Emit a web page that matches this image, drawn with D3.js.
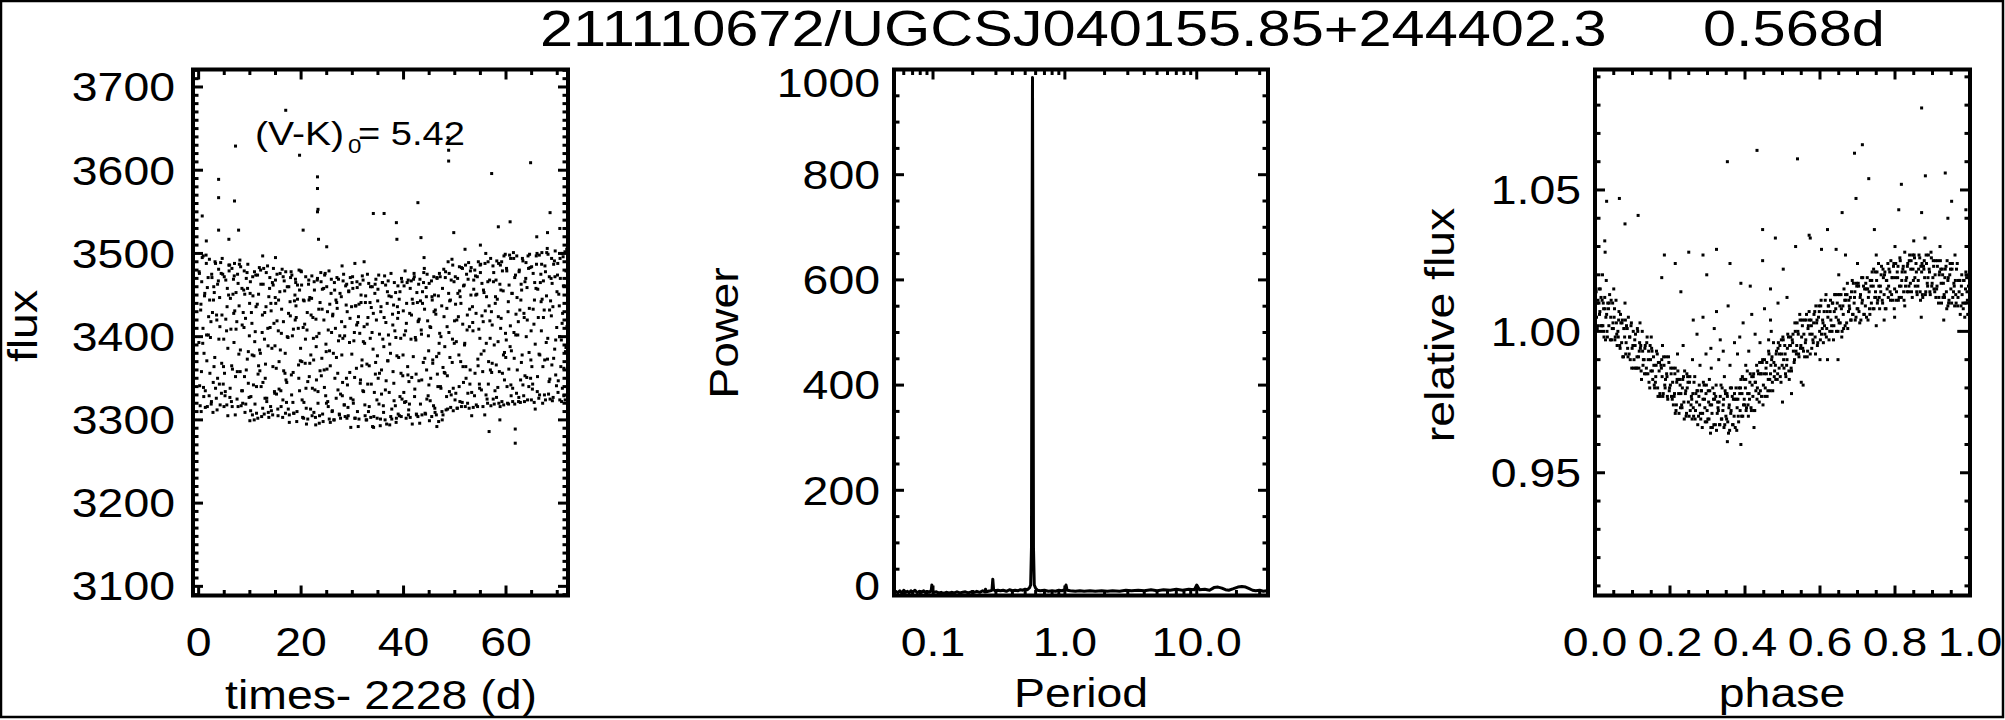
<!DOCTYPE html>
<html><head><meta charset="utf-8">
<script src="https://cdn.jsdelivr.net/npm/d3@7"></script>
<style>
body{margin:0;background:#fff}
svg{display:block}
text{font-family:"Liberation Sans",Arial,Helvetica,sans-serif;fill:#000}
</style>
</head><body>
<svg id="chart" width="2005" height="720"></svg>
<script>
// ---------------- DATA ----------------
const titleLeft = "211110672/UGCSJ040155.85+244402.3";
const titleRight = "0.568d";
const colourLabel = "(V-K)", colourSub = "0", colourValue = "= 5.42";

// Light curve, first set (time - 2228 d, flux)
const lcTimes = [
0.1,0.2,0.4,0.5,0.6,0.8,0.9, 1.0,1.2,1.3,1.5,1.6,1.7,1.9,
2.1,2.2,2.4,2.5,2.6,2.8,2.9, 3.0,3.2,3.3,3.5,3.6,3.7,3.9,
4.1,4.2,4.4,4.5,4.6,4.8,4.9, 5.0,5.2,5.3,5.5,5.6,5.7,5.9,
6.1,6.2,6.4,6.5,6.6,6.8,6.9, 7.0,7.2,7.3,7.5,7.6,7.7,7.9,
8.1,8.2,8.4,8.5,8.6,8.8,8.9, 9.0,9.2,9.3,9.5,9.6,9.7,9.9,
10.1,10.2,10.4,10.5,10.6,10.8,10.9, 11.0,11.2,11.3,11.5,11.6,11.7,11.9,
12.1,12.2,12.4,12.5,12.6,12.8,12.9, 13.0,13.2,13.3,13.5,13.6,13.7,13.9,
14.1,14.2,14.4,14.5,14.6,14.8,14.9, 15.0,15.2,15.3,15.5,15.6,15.7,15.9,
16.1,16.2,16.4,16.5,16.6,16.8,16.9, 17.0,17.2,17.3,17.5,17.6,17.7,17.9,
18.1,18.2,18.4,18.5,18.6,18.8,18.9, 19.0,19.2,19.3,19.5,19.6,19.7,19.9,
20.1,20.2,20.4,20.5,20.6,20.8,20.9, 21.0,21.2,21.3,21.5,21.6,21.7,21.9,
22.1,22.2,22.4,22.5,22.6,22.8,22.9, 23.0,23.2,23.3,23.5,23.6,23.7,23.9,
24.1,24.2,24.4,24.5,24.6,24.8,24.9, 25.0,25.2,25.3,25.5,25.6,25.7,25.9,
26.1,26.2,26.4,26.5,26.6,26.8,26.9, 27.0,27.2,27.3,27.5,27.6,27.7,27.9,
28.1,28.2,28.4,28.5,28.6,28.8,28.9, 29.0,29.2,29.3,29.5,29.6,29.7,29.9,
30.1,30.2,30.4,30.5,30.6,30.8,30.9, 31.0,31.2,31.3,31.5,31.6,31.7,31.9,
32.1,32.2,32.4,32.5,32.6,32.8,32.9, 33.0,33.2,33.3,33.5,33.6,33.7,33.9,
34.1,34.2,34.4,34.5,34.6,34.8,34.9, 35.0,35.2,35.3,35.5,35.6,35.7,35.9,
36.1,36.2,36.4,36.5,36.6,36.8,36.9, 37.0,37.2,37.3,37.5,37.6,37.7,37.9,
38.1,38.2,38.4,38.5,38.6,38.8,38.9, 39.0,39.2,39.3,39.5,39.6,39.7,39.9,
40.1,40.2,40.4,40.5,40.6,40.8,40.9, 41.0,41.2,41.3,41.5,41.6,41.7,41.9,
42.1,42.2,42.4,42.5,42.6,42.8,42.9, 43.0,43.2,43.3,43.5,43.6,43.7,43.9,
44.1,44.2,44.4,44.5,44.6,44.8,44.9, 45.0,45.2,45.3,45.5,45.6,45.7,45.9,
46.1,46.2,46.4,46.5,46.6,46.8,46.9, 47.0,47.2,47.3,47.5,47.6,47.7,47.9,
48.1,48.2,48.4,48.5,48.6,48.8,48.9, 49.0,49.2,49.3,49.5,49.6,49.7,49.9,
50.1,50.2,50.4,50.5,50.6,50.8,50.9, 51.0,51.2,51.3,51.5,51.6,51.7,51.9,
52.1,52.2,52.4,52.5,52.6,52.8,52.9, 53.0,53.2,53.3,53.5,53.6,53.7,53.9,
54.1,54.2,54.4,54.5,54.6,54.8,54.9, 55.0,55.2,55.3,55.5,55.6,55.7,55.9,
56.1,56.2,56.4,56.5,56.6,56.8,56.9, 57.0,57.2,57.3,57.5,57.6,57.7,57.9,
58.1,58.2,58.4,58.5,58.6,58.8,58.9, 59.0,59.2,59.3,59.5,59.6,59.7,59.9,
60.1,60.2,60.4,60.5,60.6,60.8,60.9, 61.0,61.2,61.3,61.5,61.6,61.7,61.9,
62.1,62.2,62.4,62.5,62.6,62.8,62.9, 63.0,63.2,63.3,63.5,63.6,63.7,63.9,
64.1,64.2,64.4,64.5,64.6,64.8,64.9, 65.0,65.2,65.3,65.5,65.6,65.7,65.9,
66.1,66.2,66.4,66.5,66.6,66.8,66.9, 67.0,67.2,67.3,67.5,67.6,67.7,67.9,
68.1,68.2,68.4,68.5,68.6,68.8,68.9, 69.0,69.2,69.3,69.5,69.6,69.7,69.9,
70.1,70.2,70.4,70.5,70.6,70.8,70.9, 71.0,71.2,71.3,71.5,71.6,71.7,71.9
];
const lcFlux = [
3478,3341,3432,3310,3466,3392,3497, 3328,3452,3315,3488,3371,3459,3402,
3493,3356,3418,3322,3471,3309,3444, 3364,3490,3338,3426,3312,3463,3481,
3447,3318,3476,3368,3494,3343,3397, 3472,3334,3421,3318,3458,3386,3486,
3327,3446,3322,3482,3361,3469,3393, 3488,3352,3409,3325,3475,3316,3437,
3358,3484,3335,3414,3320,3456,3479, 3451,3319,3470,3373,3487,3344,3401,
3466,3328,3416,3306,3449,3377,3478, 3319,3436,3308,3474,3355,3451,3384,
3480,3340,3405,3314,3463,3307,3429, 3350,3477,3326,3410,3309,3448,3471,
3440,3311,3465,3364,3482,3334,3389, 3468,3331,3419,3305,3444,3370,3476,
3316,3433,3303,3472,3359,3455,3380, 3478,3345,3400,3313,3460,3306,3425,
3354,3474,3321,3409,3308,3450,3469, 3437,3310,3462,3366,3480,3335,3386,
3462,3324,3411,3302,3443,3368,3472, 3314,3429,3301,3468,3352,3447,3378,
3473,3338,3398,3309,3456,3303,3421, 3348,3470,3320,3404,3305,3441,3466,
3433,3307,3458,3360,3474,3329,3382, 3460,3322,3408,3301,3439,3365,3469,
3311,3427,3300,3465,3350,3444,3375, 3471,3336,3395,3306,3452,3302,3418,
3345,3467,3318,3401,3304,3438,3463, 3430,3305,3455,3357,3471,3326,3379,
3458,3320,3405,3302,3437,3362,3466, 3310,3424,3301,3463,3348,3441,3372,
3468,3334,3392,3305,3449,3300,3415, 3343,3464,3316,3398,3303,3435,3460,
3428,3304,3452,3355,3469,3324,3377, 3457,3319,3403,3301,3436,3360,3465,
3309,3423,3300,3462,3347,3440,3371, 3467,3333,3391,3304,3448,3301,3414,
3344,3465,3317,3399,3302,3436,3461, 3429,3305,3454,3356,3470,3325,3378,
3461,3321,3407,3302,3440,3364,3468, 3312,3428,3303,3467,3351,3445,3376,
3472,3337,3396,3307,3453,3304,3419, 3347,3469,3319,3403,3306,3440,3465,
3433,3308,3459,3360,3475,3329,3383, 3464,3323,3411,3304,3444,3368,3472,
3314,3432,3306,3471,3355,3449,3380, 3476,3340,3400,3310,3458,3306,3424,
3356,3478,3328,3412,3313,3452,3476, 3443,3315,3468,3369,3486,3338,3392,
3472,3332,3420,3314,3452,3378,3484, 3322,3440,3316,3482,3364,3461,3390,
3486,3350,3408,3320,3469,3314,3433, 3360,3483,3333,3417,3315,3457,3480,
3450,3318,3472,3373,3490,3343,3398, 3477,3336,3425,3316,3456,3383,3488,
3330,3448,3320,3490,3370,3468,3398, 3494,3357,3414,3325,3477,3319,3440,
3366,3491,3339,3424,3320,3463,3486, 3456,3322,3479,3378,3497,3348,3404,
3482,3340,3430,3319,3462,3388,3494, 3329,3452,3322,3494,3374,3471,3402,
3497,3360,3418,3327,3480,3321,3444, 3369,3494,3342,3428,3322,3466,3489,
3459,3324,3482,3381,3499,3350,3407, 3484,3343,3433,3321,3465,3391,3497,
3334,3457,3326,3498,3378,3475,3407, 3501,3364,3423,3330,3485,3324,3449,
3373,3499,3346,3432,3325,3470,3494, 3464,3327,3487,3385,3503,3354,3411,
3488,3347,3437,3324,3470,3396,3500, 3338,3461,3329,3502,3382,3479,3412
];
// Light curve, second set
const lcTimes2 = [
0.05,0.15,0.3,0.45,0.55,0.7,0.85,0.95, 1.05,1.15,1.3,1.45,1.55,1.7,1.85,1.95,
2.05,2.15,2.3,2.45,2.55,2.7,2.85,2.95, 3.05,3.15,3.3,3.45,3.55,3.7,3.85,3.95,
4.05,4.15,4.3,4.45,4.55,4.7,4.85,4.95, 5.05,5.15,5.3,5.45,5.55,5.7,5.85,5.95,
6.05,6.15,6.3,6.45,6.55,6.7,6.85,6.95, 7.05,7.15,7.3,7.45,7.55,7.7,7.85,7.95,
8.05,8.15,8.3,8.45,8.55,8.7,8.85,8.95, 9.05,9.15,9.3,9.45,9.55,9.7,9.85,9.95,
10.05,10.15,10.3,10.45,10.55,10.7,10.85,10.95, 11.05,11.15,11.3,11.45,11.55,11.7,11.85,11.95,
12.05,12.15,12.3,12.45,12.55,12.7,12.85,12.95, 13.05,13.15,13.3,13.45,13.55,13.7,13.85,13.95,
14.05,14.15,14.3,14.45,14.55,14.7,14.85,14.95, 15.05,15.15,15.3,15.45,15.55,15.7,15.85,15.95,
16.05,16.15,16.3,16.45,16.55,16.7,16.85,16.95, 17.05,17.15,17.3,17.45,17.55,17.7,17.85,17.95,
18.05,18.15,18.3,18.45,18.55,18.7,18.85,18.95, 19.05,19.15,19.3,19.45,19.55,19.7,19.85,19.95,
20.05,20.15,20.3,20.45,20.55,20.7,20.85,20.95, 21.05,21.15,21.3,21.45,21.55,21.7,21.85,21.95,
22.05,22.15,22.3,22.45,22.55,22.7,22.85,22.95, 23.05,23.15,23.3,23.45,23.55,23.7,23.85,23.95,
24.05,24.15,24.3,24.45,24.55,24.7,24.85,24.95, 25.05,25.15,25.3,25.45,25.55,25.7,25.85,25.95,
26.05,26.15,26.3,26.45,26.55,26.7,26.85,26.95, 27.05,27.15,27.3,27.45,27.55,27.7,27.85,27.95,
28.05,28.15,28.3,28.45,28.55,28.7,28.85,28.95, 29.05,29.15,29.3,29.45,29.55,29.7,29.85,29.95,
30.05,30.15,30.3,30.45,30.55,30.7,30.85,30.95, 31.05,31.15,31.3,31.45,31.55,31.7,31.85,31.95,
32.05,32.15,32.3,32.45,32.55,32.7,32.85,32.95, 33.05,33.15,33.3,33.45,33.55,33.7,33.85,33.95,
34.05,34.15,34.3,34.45,34.55,34.7,34.85,34.95, 35.05,35.15,35.3,35.45,35.55,35.7,35.85,35.95,
36.05,36.15,36.3,36.45,36.55,36.7,36.85,36.95, 37.05,37.15,37.3,37.45,37.55,37.7,37.85,37.95,
38.05,38.15,38.3,38.45,38.55,38.7,38.85,38.95, 39.05,39.15,39.3,39.45,39.55,39.7,39.85,39.95,
40.05,40.15,40.3,40.45,40.55,40.7,40.85,40.95, 41.05,41.15,41.3,41.45,41.55,41.7,41.85,41.95,
42.05,42.15,42.3,42.45,42.55,42.7,42.85,42.95, 43.05,43.15,43.3,43.45,43.55,43.7,43.85,43.95,
44.05,44.15,44.3,44.45,44.55,44.7,44.85,44.95, 45.05,45.15,45.3,45.45,45.55,45.7,45.85,45.95,
46.05,46.15,46.3,46.45,46.55,46.7,46.85,46.95, 47.05,47.15,47.3,47.45,47.55,47.7,47.85,47.95,
48.05,48.15,48.3,48.45,48.55,48.7,48.85,48.95, 49.05,49.15,49.3,49.45,49.55,49.7,49.85,49.95,
50.05,50.15,50.3,50.45,50.55,50.7,50.85,50.95, 51.05,51.15,51.3,51.45,51.55,51.7,51.85,51.95,
52.05,52.15,52.3,52.45,52.55,52.7,52.85,52.95, 53.05,53.15,53.3,53.45,53.55,53.7,53.85,53.95,
54.05,54.15,54.3,54.45,54.55,54.7,54.85,54.95, 55.05,55.15,55.3,55.45,55.55,55.7,55.85,55.95,
56.05,56.15,56.3,56.45,56.55,56.7,56.85,56.95, 57.05,57.15,57.3,57.45,57.55,57.7,57.85,57.95,
58.05,58.15,58.3,58.45,58.55,58.7,58.85,58.95, 59.05,59.15,59.3,59.45,59.55,59.7,59.85,59.95,
60.05,60.15,60.3,60.45,60.55,60.7,60.85,60.95, 61.05,61.15,61.3,61.45,61.55,61.7,61.85,61.95,
62.05,62.15,62.3,62.45,62.55,62.7,62.85,62.95, 63.05,63.15,63.3,63.45,63.55,63.7,63.85,63.95,
64.05,64.15,64.3,64.45,64.55,64.7,64.85,64.95, 65.05,65.15,65.3,65.45,65.55,65.7,65.85,65.95,
66.05,66.15,66.3,66.45,66.55,66.7,66.85,66.95, 67.05,67.15,67.3,67.45,67.55,67.7,67.85,67.95,
68.05,68.15,68.3,68.45,68.55,68.7,68.85,68.95, 69.05,69.15,69.3,69.45,69.55,69.7,69.85,69.95,
70.05,70.15,70.3,70.45,70.55,70.7,70.85,70.95, 71.05,71.15,71.3,71.45,71.55,71.7,71.85,71.95
];
const lcFlux2 = [
3393,3476,3317,3439,3358,3495,3410,3339, 3380,3449,3335,3498,3402,3316,3471,3424,
3329,3444,3399,3319,3475,3429,3345,3460, 3453,3375,3488,3326,3420,3350,3467,3397,
3343,3412,3489,3332,3426,3475,3364,3316, 3356,3329,3468,3407,3436,3305,3450,3479,
3486,3338,3409,3365,3316,3451,3428,3473, 3431,3306,3453,3418,3358,3464,3379,3487,
3492,3384,3317,3458,3335,3429,3411,3352, 3309,3422,3360,3477,3458,3382,3327,3440,
3452,3311,3429,3378,3472,3342,3300,3394, 3406,3474,3340,3439,3302,3365,3483,3359,
3380,3463,3304,3426,3345,3482,3397,3326, 3367,3436,3322,3485,3389,3303,3458,3411,
3316,3431,3386,3306,3462,3416,3332,3447, 3440,3362,3475,3313,3407,3337,3454,3384,
3335,3404,3481,3324,3418,3467,3356,3308, 3348,3321,3460,3399,3428,3297,3442,3471,
3478,3330,3401,3357,3308,3443,3420,3465, 3423,3298,3445,3410,3350,3456,3371,3479,
3478,3370,3303,3444,3321,3415,3397,3338, 3295,3408,3346,3463,3444,3368,3313,3426,
3446,3305,3423,3372,3466,3336,3294,3388, 3400,3468,3334,3433,3296,3359,3477,3353,
3374,3457,3298,3420,3339,3476,3391,3320, 3361,3430,3316,3479,3383,3297,3452,3405,
3310,3425,3380,3300,3456,3410,3326,3441, 3434,3356,3469,3307,3401,3331,3448,3378,
3329,3398,3475,3318,3412,3461,3350,3302, 3342,3315,3454,3393,3422,3291,3436,3465,
3472,3324,3395,3351,3302,3437,3414,3459, 3417,3292,3439,3404,3344,3450,3365,3473,
3335,3394,3412,3318,3441,3300,3367,3475, 3423,3310,3365,3441,3460,3343,3405,3292,
3385,3291,3333,3463,3369,3420,3302,3443, 3350,3474,3356,3293,3430,3331,3465,3397,
3317,3388,3473,3336,3417,3295,3454,3371, 3402,3449,3294,3380,3476,3313,3427,3358,
3438,3323,3407,3453,3297,3377,3422,3307, 3375,3445,3328,3398,3304,3466,3353,3431,
3333,3402,3479,3322,3416,3465,3354,3306, 3346,3319,3458,3397,3426,3295,3440,3469,
3476,3328,3399,3355,3306,3441,3418,3463, 3421,3296,3443,3408,3348,3454,3369,3477,
3482,3374,3307,3448,3325,3419,3401,3342, 3299,3412,3350,3467,3448,3372,3317,3430,
3450,3309,3427,3376,3470,3340,3298,3392, 3404,3472,3338,3437,3300,3363,3481,3357,
3388,3471,3312,3434,3353,3490,3405,3334, 3375,3444,3330,3493,3397,3311,3466,3419,
3324,3439,3394,3314,3470,3424,3340,3455, 3448,3370,3483,3321,3415,3345,3462,3392,
3316,3364,3475,3426,3332,3489,3412,3343, 3479,3450,3305,3436,3407,3468,3329,3356,
3473,3428,3451,3316,3365,3409,3338,3486, 3487,3379,3464,3358,3418,3453,3306,3431,
3500,3392,3325,3466,3343,3437,3419,3360, 3317,3430,3368,3485,3466,3390,3335,3448,
3468,3327,3445,3394,3488,3358,3316,3410, 3422,3490,3356,3455,3318,3381,3499,3375,
3396,3479,3320,3442,3361,3498,3413,3342, 3383,3452,3338,3501,3405,3319,3474,3427,
3332,3447,3402,3322,3478,3432,3348,3463, 3456,3378,3491,3329,3423,3353,3470,3400,
3351,3420,3497,3340,3434,3483,3372,3324, 3364,3337,3476,3415,3444,3313,3458,3487,
3500,3352,3423,3379,3330,3465,3442,3487, 3445,3320,3467,3432,3372,3478,3393,3501,
3506,3398,3331,3472,3349,3443,3425,3366, 3323,3436,3374,3491,3472,3396,3341,3454,
3474,3333,3451,3400,3494,3364,3322,3416, 3428,3496,3362,3461,3324,3387,3505,3381
];
const lcOutliers = [
[0.7,3545],[3.9,3589],[3.9,3567],[3.9,3528],[7.2,3629],[7.0,3563],[7.8,3528],[5.9,3517],
[17.0,3672],[19.7,3618],[20.4,3528],[23.2,3592],[23.2,3578],[23.3,3553],[23.2,3550],[23.4,3517],
[25.0,3508],[32.3,3490],[34.1,3548],[36.2,3548],[38.6,3537],[38.7,3517],[42.8,3561],[43.4,3519],
[48.7,3639],[48.8,3624],[48.8,3611],[49.8,3525],[57.2,3596],[58.5,3532],[60.8,3538],[64.8,3609],
[68.6,3549],[68.1,3525],[56.7,3286],[61.8,3289],[61.8,3272],[58.8,3300],[10.0,3299],[46.5,3292],
[12.5,3497],[28.0,3485],[44.0,3495],[52.0,3505],[15.0,3495],[1.5,3515],[66.0,3520],[70.5,3530],
[55.0,3510],[30.5,3488]
];

// Periodogram (period in d, power)
const perPeriod = [
0.050,0.052,0.054,0.056,0.058,0.060,0.062,0.064,0.066,0.068,0.070,0.073,0.076,0.079,0.082,0.085,0.088,0.091,0.094,0.097,
0.098,0.099,0.102,0.106,0.110,0.115,0.120,0.126,0.132,0.138,0.145,0.152,0.160,0.168,0.176,0.185,0.195,0.205,0.215,0.226,
0.238,0.248,0.250,0.253,0.262,0.272,0.280,0.284,0.288,0.296,0.310,0.325,0.340,0.360,0.380,0.400,0.420,0.440,0.460,0.480,
0.500,0.520,0.540,0.550,0.558,0.563,0.568,0.573,0.578,0.586,0.600,0.620,0.650,0.700,0.750,0.800,0.850,0.900,0.950,1.000,
1.020,1.040,1.100,1.200,1.300,1.400,1.550,1.700,1.900,2.100,2.300,2.600,2.900,3.200,3.600,4.000,4.500,5.000,5.600,6.300,
7.000,7.800,8.700,9.600,10.0,10.5,11.5,12.5,13.5,14.5,15.5,16.5,17.5,19.0,20.5,22.0,23.5,25.0,26.5,28.0,
30.0,32.0,34.0,35.0
];
const perPower = [
6,8,5,9,4,10,6,8,5,9,6,10,5,8,6,9,5,7,6,10,
20,8,6,7,5,6,4,6,5,6,5,7,5,6,7,5,7,6,8,6,
9,7,12,7,8,9,10,31,11,9,10,9,10,8,11,9,10,9,11,10,
12,11,15,20,90,600,985,600,90,20,14,10,9,10,8,9,8,10,9,11,
20,10,9,8,9,8,9,8,9,8,9,8,10,9,10,9,11,9,11,10,
12,10,12,11,20,11,12,10,15,16,14,11,10,13,16,17,16,13,10,9,
10,8,9,8
];

// Phase-folded light curve, first set (phase, relative flux)
const foldPhase = [
0.002,0.004,0.007,0.009,0.012,0.014,0.017,0.019,0.022,0.024,0.027,0.029,0.032,0.034,0.037,0.039,0.042,0.044,0.047,0.049,
0.052,0.054,0.057,0.059,0.062,0.064,0.067,0.069,0.072,0.074,0.077,0.079,0.082,0.084,0.087,0.089,0.092,0.094,0.097,0.099,
0.102,0.104,0.107,0.109,0.112,0.114,0.117,0.119,0.122,0.124,0.127,0.129,0.132,0.134,0.137,0.139,0.142,0.144,0.147,0.149,
0.152,0.154,0.157,0.159,0.162,0.164,0.167,0.169,0.172,0.174,0.177,0.179,0.182,0.184,0.187,0.189,0.192,0.194,0.197,0.199,
0.202,0.204,0.207,0.209,0.212,0.214,0.217,0.219,0.222,0.224,0.227,0.229,0.232,0.234,0.237,0.239,0.242,0.244,0.247,0.249,
0.252,0.254,0.257,0.259,0.262,0.264,0.267,0.269,0.272,0.274,0.277,0.279,0.282,0.284,0.287,0.289,0.292,0.294,0.297,0.299,
0.302,0.304,0.307,0.309,0.312,0.314,0.317,0.319,0.322,0.324,0.327,0.329,0.332,0.334,0.337,0.339,0.342,0.344,0.347,0.349,
0.352,0.354,0.357,0.359,0.362,0.364,0.367,0.369,0.372,0.374,0.377,0.379,0.382,0.384,0.387,0.389,0.392,0.394,0.397,0.399,
0.402,0.404,0.407,0.409,0.412,0.414,0.417,0.419,0.422,0.424,0.427,0.429,0.432,0.434,0.437,0.439,0.442,0.444,0.447,0.449,
0.452,0.454,0.457,0.459,0.462,0.464,0.467,0.469,0.472,0.474,0.477,0.479,0.482,0.484,0.487,0.489,0.492,0.494,0.497,0.499,
0.502,0.504,0.507,0.509,0.512,0.514,0.517,0.519,0.522,0.524,0.527,0.529,0.532,0.534,0.537,0.539,0.542,0.544,0.547,0.549,
0.552,0.554,0.557,0.559,0.562,0.564,0.567,0.569,0.572,0.574,0.577,0.579,0.582,0.584,0.587,0.589,0.592,0.594,0.597,0.599,
0.602,0.604,0.607,0.609,0.612,0.614,0.617,0.619,0.622,0.624,0.627,0.629,0.632,0.634,0.637,0.639,0.642,0.644,0.647,0.649,
0.652,0.654,0.657,0.659,0.662,0.664,0.667,0.669,0.672,0.674,0.677,0.679,0.682,0.684,0.687,0.689,0.692,0.694,0.697,0.699,
0.702,0.704,0.707,0.709,0.712,0.714,0.717,0.719,0.722,0.724,0.727,0.729,0.732,0.734,0.737,0.739,0.742,0.744,0.747,0.749,
0.752,0.754,0.757,0.759,0.762,0.764,0.767,0.769,0.772,0.774,0.777,0.779,0.782,0.784,0.787,0.789,0.792,0.794,0.797,0.799,
0.802,0.804,0.807,0.809,0.812,0.814,0.817,0.819,0.822,0.824,0.827,0.829,0.832,0.834,0.837,0.839,0.842,0.844,0.847,0.849,
0.852,0.854,0.857,0.859,0.862,0.864,0.867,0.869,0.872,0.874,0.877,0.879,0.882,0.884,0.887,0.889,0.892,0.894,0.897,0.899,
0.902,0.904,0.907,0.909,0.912,0.914,0.917,0.919,0.922,0.924,0.927,0.929,0.932,0.934,0.937,0.939,0.942,0.944,0.947,0.949,
0.952,0.954,0.957,0.959,0.962,0.964,0.967,0.969,0.972,0.974,0.977,0.979,0.982,0.984,0.987,0.989,0.992,0.994,0.997,0.999
];
const foldFlux = [
1.015,1.005,1.010,1.002, 1.006,1.015,1.002,1.011, 1.010,0.998,1.008,1.005, 1.000,1.010,1.002,1.013, 1.005,0.997,1.010,1.001,
1.008,0.998,1.003,0.995, 0.998,1.007,0.994,1.003, 1.003,0.991,1.001,0.998, 0.992,1.002,0.994,1.005, 0.998,0.990,1.003,0.994,
1.000,0.990,0.995,0.987, 0.991,1.000,0.987,0.996, 0.995,0.983,0.993,0.990, 0.985,0.995,0.987,0.998, 0.990,0.982,0.995,0.986,
0.993,0.983,0.988,0.980, 0.984,0.993,0.980,0.989, 0.989,0.977,0.987,0.984, 0.978,0.988,0.980,0.991, 0.984,0.976,0.989,0.980,
0.987,0.977,0.982,0.974, 0.978,0.987,0.974,0.983, 0.983,0.971,0.981,0.978, 0.973,0.983,0.975,0.986, 0.979,0.971,0.984,0.975,
0.982,0.972,0.977,0.969, 0.973,0.982,0.969,0.978, 0.979,0.967,0.977,0.974, 0.969,0.979,0.971,0.982, 0.976,0.968,0.981,0.972,
0.979,0.969,0.974,0.966, 0.971,0.980,0.967,0.976, 0.977,0.965,0.975,0.972, 0.967,0.977,0.969,0.980, 0.974,0.966,0.979,0.970,
0.978,0.968,0.973,0.965, 0.971,0.980,0.967,0.976, 0.978,0.966,0.976,0.973, 0.970,0.980,0.972,0.983, 0.978,0.970,0.983,0.974,
0.983,0.973,0.978,0.970, 0.976,0.985,0.972,0.981, 0.984,0.972,0.982,0.979, 0.976,0.986,0.978,0.989, 0.985,0.977,0.990,0.981,
0.990,0.980,0.985,0.977, 0.983,0.992,0.979,0.988, 0.991,0.979,0.989,0.986, 0.983,0.993,0.985,0.996, 0.992,0.984,0.997,0.988,
0.997,0.987,0.992,0.984, 0.990,0.999,0.986,0.995, 0.998,0.986,0.996,0.993, 0.990,1.000,0.992,1.003, 0.999,0.991,1.004,0.995,
1.004,0.994,0.999,0.991, 0.997,1.006,0.993,1.002, 1.004,0.992,1.002,0.999, 0.996,1.006,0.998,1.009, 1.004,0.996,1.009,1.000,
1.009,0.999,1.004,0.996, 1.002,1.011,0.998,1.007, 1.009,0.997,1.007,1.004, 1.000,1.010,1.002,1.013, 1.008,1.000,1.013,1.004,
1.013,1.003,1.008,1.000, 1.006,1.015,1.002,1.011, 1.013,1.001,1.011,1.008, 1.004,1.014,1.006,1.017, 1.012,1.004,1.017,1.008,
1.017,1.007,1.012,1.004, 1.010,1.019,1.006,1.015, 1.017,1.005,1.015,1.012, 1.008,1.018,1.010,1.021, 1.016,1.008,1.021,1.012,
1.021,1.011,1.016,1.008, 1.014,1.023,1.010,1.019, 1.020,1.008,1.018,1.015, 1.012,1.022,1.014,1.025, 1.019,1.011,1.024,1.015,
1.024,1.014,1.019,1.011, 1.016,1.025,1.012,1.021, 1.023,1.011,1.021,1.018, 1.014,1.024,1.016,1.027, 1.022,1.014,1.027,1.018,
1.026,1.016,1.021,1.013, 1.018,1.027,1.014,1.023, 1.024,1.012,1.022,1.019, 1.014,1.024,1.016,1.027, 1.021,1.013,1.026,1.017,
1.025,1.015,1.020,1.012, 1.016,1.025,1.012,1.021, 1.022,1.010,1.020,1.017, 1.012,1.022,1.014,1.025, 1.019,1.011,1.024,1.015,
1.022,1.012,1.017,1.009, 1.013,1.022,1.009,1.018, 1.018,1.006,1.016,1.013, 1.008,1.018,1.010,1.021, 1.014,1.006,1.019,1.010
];
// Phase-folded light curve, second set
const foldPhase2 = [
0.001,0.003,0.006,0.008,0.011,0.013,0.016,0.018,0.021,0.023,0.026,0.028,0.031,0.033,0.036,0.038,0.041,0.043,0.046,0.048,
0.051,0.053,0.056,0.058,0.061,0.063,0.066,0.068,0.071,0.073,0.076,0.078,0.081,0.083,0.086,0.088,0.091,0.093,0.096,0.098,
0.101,0.103,0.106,0.108,0.111,0.113,0.116,0.118,0.121,0.123,0.126,0.128,0.131,0.133,0.136,0.138,0.141,0.143,0.146,0.148,
0.151,0.153,0.156,0.158,0.161,0.163,0.166,0.168,0.171,0.173,0.176,0.178,0.181,0.183,0.186,0.188,0.191,0.193,0.196,0.198,
0.201,0.203,0.206,0.208,0.211,0.213,0.216,0.218,0.221,0.223,0.226,0.228,0.231,0.233,0.236,0.238,0.241,0.243,0.246,0.248,
0.251,0.253,0.256,0.258,0.261,0.263,0.266,0.268,0.271,0.273,0.276,0.278,0.281,0.283,0.286,0.288,0.291,0.293,0.296,0.298,
0.301,0.303,0.306,0.308,0.311,0.313,0.316,0.318,0.321,0.323,0.326,0.328,0.331,0.333,0.336,0.338,0.341,0.343,0.346,0.348,
0.351,0.353,0.356,0.358,0.361,0.363,0.366,0.368,0.371,0.373,0.376,0.378,0.381,0.383,0.386,0.388,0.391,0.393,0.396,0.398,
0.401,0.403,0.406,0.408,0.411,0.413,0.416,0.418,0.421,0.423,0.426,0.428,0.431,0.433,0.436,0.438,0.441,0.443,0.446,0.448,
0.451,0.453,0.456,0.458,0.461,0.463,0.466,0.468,0.471,0.473,0.476,0.478,0.481,0.483,0.486,0.488,0.491,0.493,0.496,0.498,
0.501,0.503,0.506,0.508,0.511,0.513,0.516,0.518,0.521,0.523,0.526,0.528,0.531,0.533,0.536,0.538,0.541,0.543,0.546,0.548,
0.551,0.553,0.556,0.558,0.561,0.563,0.566,0.568,0.571,0.573,0.576,0.578,0.581,0.583,0.586,0.588,0.591,0.593,0.596,0.598,
0.601,0.603,0.606,0.608,0.611,0.613,0.616,0.618,0.621,0.623,0.626,0.628,0.631,0.633,0.636,0.638,0.641,0.643,0.646,0.648,
0.651,0.653,0.656,0.658,0.661,0.663,0.666,0.668,0.671,0.673,0.676,0.678,0.681,0.683,0.686,0.688,0.691,0.693,0.696,0.698,
0.701,0.703,0.706,0.708,0.711,0.713,0.716,0.718,0.721,0.723,0.726,0.728,0.731,0.733,0.736,0.738,0.741,0.743,0.746,0.748,
0.751,0.753,0.756,0.758,0.761,0.763,0.766,0.768,0.771,0.773,0.776,0.778,0.781,0.783,0.786,0.788,0.791,0.793,0.796,0.798,
0.801,0.803,0.806,0.808,0.811,0.813,0.816,0.818,0.821,0.823,0.826,0.828,0.831,0.833,0.836,0.838,0.841,0.843,0.846,0.848,
0.851,0.853,0.856,0.858,0.861,0.863,0.866,0.868,0.871,0.873,0.876,0.878,0.881,0.883,0.886,0.888,0.891,0.893,0.896,0.898,
0.901,0.903,0.906,0.908,0.911,0.913,0.916,0.918,0.921,0.923,0.926,0.928,0.931,0.933,0.936,0.938,0.941,0.943,0.946,0.948,
0.951,0.953,0.956,0.958,0.961,0.963,0.966,0.968,0.971,0.973,0.976,0.978,0.981,0.983,0.986,0.988,0.991,0.993,0.996,0.998
];
const foldFlux2 = [
1.006,1.014,1.001,1.011, 1.015,1.007,1.012,1.002, 1.002,1.008,1.012,0.997, 1.006,0.998,1.008,1.010, 0.997,1.011,1.001,1.003,
1.005,0.997,1.011,0.999, 1.000,1.004,0.995,1.006, 0.996,1.004,0.991,1.001, 1.004,0.996,1.001,0.991, 0.992,0.998,1.002,0.987,
0.995,0.987,0.997,0.999, 0.987,1.001,0.991,0.993, 0.994,0.986,1.000,0.988, 0.990,0.994,0.985,0.996, 0.985,0.993,0.980,0.990,
0.994,0.986,0.991,0.981, 0.982,0.988,0.992,0.977, 0.986,0.978,0.988,0.990, 0.977,0.991,0.981,0.983, 0.985,0.977,0.991,0.979,
0.981,0.985,0.976,0.987, 0.977,0.985,0.972,0.982, 0.986,0.978,0.983,0.973, 0.974,0.980,0.984,0.969, 0.978,0.970,0.980,0.982,
0.970,0.984,0.974,0.976, 0.978,0.970,0.984,0.972, 0.975,0.979,0.970,0.981, 0.971,0.979,0.966,0.976, 0.981,0.973,0.978,0.968,
0.969,0.975,0.979,0.964, 0.974,0.966,0.976,0.978, 0.967,0.981,0.971,0.973, 0.975,0.967,0.981,0.969, 0.972,0.976,0.967,0.978,
0.969,0.977,0.964,0.974, 0.980,0.972,0.977,0.967, 0.970,0.976,0.980,0.965, 0.976,0.968,0.978,0.980, 0.970,0.984,0.974,0.976,
0.980,0.972,0.986,0.974, 0.978,0.982,0.973,0.984, 0.977,0.985,0.972,0.982, 0.988,0.980,0.985,0.975, 0.979,0.985,0.989,0.974,
0.985,0.977,0.987,0.989, 0.979,0.993,0.983,0.985, 0.990,0.982,0.996,0.984, 0.988,0.992,0.983,0.994, 0.987,0.995,0.982,0.992,
0.998,0.990,0.995,0.985, 0.988,0.994,0.998,0.983, 0.995,0.987,0.997,0.999, 0.989,1.003,0.993,0.995, 1.000,0.992,1.006,0.994,
0.998,1.002,0.993,1.004, 0.996,1.004,0.991,1.001, 1.007,0.999,1.004,0.994, 0.997,1.003,1.007,0.992, 1.003,0.995,1.005,1.007,
0.997,1.011,1.001,1.003, 1.007,0.999,1.013,1.001, 1.005,1.009,1.000,1.011, 1.002,1.010,0.997,1.007, 1.013,1.005,1.010,1.000,
1.003,1.009,1.013,0.998, 1.009,1.001,1.011,1.013, 1.003,1.017,1.007,1.009, 1.012,1.004,1.018,1.006, 1.010,1.014,1.005,1.016,
1.008,1.016,1.003,1.013, 1.019,1.011,1.016,1.006, 1.009,1.015,1.019,1.004, 1.014,1.006,1.016,1.018, 1.008,1.022,1.012,1.014,
1.018,1.010,1.024,1.012, 1.016,1.020,1.011,1.022, 1.013,1.021,1.008,1.018, 1.024,1.016,1.021,1.011, 1.013,1.019,1.023,1.008,
1.019,1.011,1.021,1.023, 1.012,1.026,1.016,1.018, 1.022,1.014,1.028,1.016, 1.019,1.023,1.014,1.025, 1.017,1.025,1.012,1.022,
1.027,1.019,1.024,1.014, 1.016,1.022,1.026,1.011, 1.021,1.013,1.023,1.025, 1.013,1.027,1.017,1.019, 1.022,1.014,1.028,1.016,
1.019,1.023,1.014,1.025, 1.015,1.023,1.010,1.020, 1.025,1.017,1.022,1.012, 1.013,1.019,1.023,1.008, 1.018,1.010,1.020,1.022,
1.010,1.024,1.014,1.016, 1.018,1.010,1.024,1.012, 1.014,1.018,1.009,1.020, 1.010,1.018,1.005,1.015, 1.019,1.011,1.016,1.006
];
const foldScatter = [
[0.871,1.079],[0.432,1.064],[0.713,1.066],[0.692,1.063],[0.540,1.061],[0.353,1.060],[0.730,1.054],[0.881,1.055],
[0.934,1.056],[0.817,1.052],[0.031,1.046],[0.065,1.047],[0.696,1.047],[0.951,1.046],[0.871,1.042],[0.810,1.043],
[0.659,1.042],[0.989,1.043],[0.080,1.038],[0.115,1.041],[0.447,1.036],[0.571,1.034],[0.620,1.036],[0.745,1.036],
[0.941,1.040],[0.481,1.033],[0.574,1.033],[0.535,1.030],[0.604,1.029],[0.643,1.029],[0.668,1.027],[0.026,1.032],
[0.027,1.028],[0.324,1.029],[0.288,1.027],[0.250,1.028],[0.214,1.024],[0.185,1.027],[0.298,1.020],[0.229,1.014],
[0.178,1.019],[0.360,1.024],[0.447,1.025],[0.502,1.022],[0.389,1.017],[0.414,1.016],[0.468,1.015],[0.355,1.009],
[0.324,1.007],[0.288,1.005],[0.262,1.004],[0.334,0.997],[0.309,0.994],[0.386,0.998],[0.427,0.999],[0.468,1.004],
[0.524,0.978],[0.555,0.981],[0.424,0.966],[0.353,0.961],[0.389,0.960],[0.214,0.971],[0.799,1.005],[0.826,1.009],
[0.771,1.004],[0.648,0.990],[0.941,1.009],
[0.22,0.992],[0.26,0.990],[0.28,0.988],[0.31,0.987],[0.33,0.990],[0.36,0.988],[0.38,0.992],[0.41,0.993],
[0.44,0.996],[0.47,1.000],[0.15,0.998],[0.18,0.995],[0.12,1.003],[0.08,1.010],[0.05,1.015],[0.03,1.018],
[0.02,1.020],[0.65,1.020],[0.70,1.024],[0.75,1.027],[0.80,1.030],[0.85,1.032],[0.88,1.033],[0.92,1.030],
[0.96,1.027],[0.50,0.975],[0.55,0.982],[0.60,0.990],[0.62,0.990],[0.75,1.002],[0.87,1.005],[0.93,1.004],
[0.97,1.000],[0.235,0.995],[0.272,0.999],[0.296,0.992],[0.318,1.001],[0.342,0.993],[0.372,0.996],[0.395,1.003],
[0.418,1.006],[0.452,1.008],[0.488,1.010],[0.512,1.012],[0.245,0.985],[0.305,0.983],[0.345,0.984],[0.402,0.988],
[0.463,0.997]
];

// Axis ticks and labels
const lcXTicks = [0, 20, 40, 60];
const lcXTickLabels = ["0", "20", "40", "60"];
const lcYTicks = [3100, 3200, 3300, 3400, 3500, 3600, 3700];
const lcYTickLabels = ["3100", "3200", "3300", "3400", "3500", "3600", "3700"];
const perXTicks = [0.1, 1, 10];
const perXTickLabels = ["0.1", "1.0", "10.0"];
const perXMinor = [0.06,0.07,0.08,0.09,0.2,0.3,0.4,0.5,0.6,0.7,0.8,0.9,2,3,4,5,6,7,8,9,20,30];
const perYTicks = [0, 200, 400, 600, 800, 1000];
const perYTickLabels = ["0", "200", "400", "600", "800", "1000"];
const foldXTicks = [0, 0.2, 0.4, 0.6, 0.8, 1.0];
const foldXTickLabels = ["0.0", "0.2", "0.4", "0.6", "0.8", "1.0"];
const foldYTicks = [0.95, 1.00, 1.05];
const foldYTickLabels = ["0.95", "1.00", "1.05"];
const axisTitles = { lcX: "times- 2228 (d)", lcY: "flux", perX: "Period", perY: "Power", foldX: "phase", foldY: "relative flux" };

// ---------------- DRAWING ----------------
const svg = d3.select("#chart");
svg.append("rect").attr("width", 2005).attr("height", 720).attr("fill", "#fff");
svg.append("rect").attr("x", 1).attr("y", 1).attr("width", 2002).attr("height", 716)
  .attr("fill", "none").attr("stroke", "#000").attr("stroke-width", 2.5);

const TOP = 69.5, BOT = 595.5;
const xLc = d3.scaleLinear().domain([-1.1, 72.1]).range([193, 568]);
const yLc = d3.scaleLinear().domain([3089, 3721]).range([BOT, TOP]);
const xPer = d3.scaleLog().domain([0.0506, 34.7]).range([894, 1268]);
const yPer = d3.scaleLinear().domain([0, 1000]).range([BOT, TOP]);
const xFold = d3.scaleLinear().domain([0, 1]).range([1595, 1970]);
const yFold = d3.scaleLinear().domain([0.9066, 1.0926]).range([BOT, TOP]);

const STRETCH = 1.16;
function addText(x, y, str, size, anchor, stretch, rot) {
  return svg.append("text")
    .attr("transform", `translate(${x},${y})` + (rot ? ` rotate(${rot})` : "") + ` scale(${stretch},1)`)
    .attr("text-anchor", anchor).attr("font-size", size).text(str);
}

function clipFor(id, xs, ys) {
  const [l, r] = xs.range(), [b, t] = ys.range();
  svg.append("clipPath").attr("id", id).append("rect")
    .attr("x", l).attr("y", t).attr("width", r - l).attr("height", b - t);
  return `url(#${id})`;
}

function dots(xs, ys, pts, clip) {
  const s = 3;
  svg.append("g").attr("clip-path", clip).selectAll("rect").data(pts).join("rect")
    .attr("x", d => xs(d[0]) - s / 2).attr("y", d => ys(d[1]) - s / 2)
    .attr("width", s).attr("height", s).attr("fill", "#000");
}

function box(xs, ys, xMaj, xMin, yMaj, yMin) {
  const [l, r] = xs.range(), [b, t] = ys.range();
  const g = svg.append("g").attr("stroke", "#000").attr("stroke-width", 3);
  const maj = 10, mn = 5.5;
  const vt = (v, len) => {
    const x = xs(v);
    g.append("line").attr("x1", x).attr("x2", x).attr("y1", b).attr("y2", b - len);
    g.append("line").attr("x1", x).attr("x2", x).attr("y1", t).attr("y2", t + len);
  };
  const ht = (v, len) => {
    const y = ys(v);
    g.append("line").attr("y1", y).attr("y2", y).attr("x1", l).attr("x2", l + len);
    g.append("line").attr("y1", y).attr("y2", y).attr("x1", r).attr("x2", r - len);
  };
  xMaj.forEach(v => vt(v, maj)); xMin.forEach(v => vt(v, mn));
  yMaj.forEach(v => ht(v, maj)); yMin.forEach(v => ht(v, mn));
  svg.append("rect").attr("x", l).attr("y", t).attr("width", r - l).attr("height", b - t)
    .attr("fill", "none").attr("stroke", "#000").attr("stroke-width", 4);
}

function yLabels(ys, ticks, labels, rightX) {
  const [b, t] = ys.range();
  ticks.forEach((v, i) => {
    const cy = Math.min(Math.max(ys(v), t + 13), b - 10);
    addText(rightX, cy + 14.3, labels[i], 40, "end", STRETCH);
  });
}
function xLabels(xs, ticks, labels) {
  ticks.forEach((v, i) => addText(xs(v), 656, labels[i], 40, "middle", STRETCH));
}

// Panel 1: light curve
const clip1 = clipFor("c1", xLc, yLc);
dots(xLc, yLc, lcTimes.map((t, i) => [t, lcFlux[i]]), clip1);
dots(xLc, yLc, lcTimes2.map((t, i) => [t, lcFlux2[i]]), clip1);
dots(xLc, yLc, lcOutliers, clip1);
box(xLc, yLc, lcXTicks, d3.range(5, 72, 5).filter(v => v % 20 !== 0),
    lcYTicks, d3.range(3090, 3721, 10).filter(v => v % 100 !== 0));
yLabels(yLc, lcYTicks, lcYTickLabels, 175);
xLabels(xLc, lcXTicks, lcXTickLabels);
addText(381, 709, axisTitles.lcX, 40, "middle", STRETCH);
addText(37, 326, axisTitles.lcY, 40, "middle", STRETCH, -90);
addText(255, 145, colourLabel, 34, "start", 1.15);
addText(348, 153, colourSub, 21, "start", 1.15);
addText(358, 145, colourValue, 34, "start", 1.12);

// Panel 2: periodogram
const clip2 = clipFor("c2", xPer, yPer);
const perLine = d3.line().x(d => xPer(d[0])).y(d => yPer(d[1]));
svg.append("path").attr("clip-path", clip2)
  .datum(perPeriod.map((p, i) => [p, perPower[i]]))
  .attr("d", perLine).attr("fill", "none").attr("stroke", "#000")
  .attr("stroke-width", 3).attr("stroke-linejoin", "round");
box(xPer, yPer, perXTicks, perXMinor, perYTicks, d3.range(50, 1000, 50).filter(v => v % 200 !== 0));
yLabels(yPer, perYTicks, perYTickLabels, 880);
xLabels(xPer, perXTicks, perXTickLabels);
addText(1081, 707, axisTitles.perX, 40, "middle", STRETCH);
addText(738, 333, axisTitles.perY, 40, "middle", STRETCH, -90);

// Panel 3: phase-folded
const clip3 = clipFor("c3", xFold, yFold);
dots(xFold, yFold, foldPhase.map((p, i) => [p, foldFlux[i]]), clip3);
dots(xFold, yFold, foldPhase2.map((p, i) => [p, foldFlux2[i]]), clip3);
dots(xFold, yFold, foldScatter, clip3);
box(xFold, yFold, foldXTicks, d3.range(0.05, 1, 0.05).filter(v => Math.abs(v * 5 - Math.round(v * 5)) > 1e-6),
    foldYTicks, d3.range(0.91, 1.095, 0.01).filter(v => Math.abs(v * 20 - Math.round(v * 20)) > 1e-6));
yLabels(yFold, foldYTicks, foldYTickLabels, 1581);
xLabels(xFold, foldXTicks, foldXTickLabels);
addText(1782, 707, axisTitles.foldX, 40, "middle", STRETCH);
addText(1454, 325, axisTitles.foldY, 40, "middle", STRETCH, -90);

// Title
addText(540, 45.5, titleLeft, 50, "start", 1.19);
addText(1703, 45.5, titleRight, 50, "start", 1.19);
</script>
</body></html>
